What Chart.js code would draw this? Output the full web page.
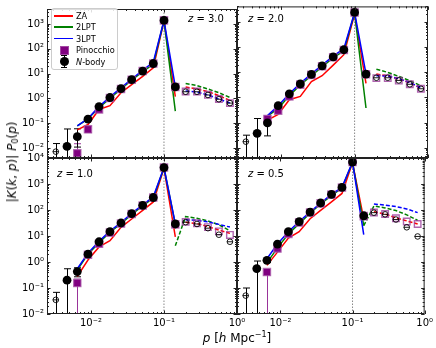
<!DOCTYPE html>
<html>
<head>
<meta charset="utf-8">
<script src="https://cdn.jsdelivr.net/npm/chart.js@4.4.1/dist/chart.umd.min.js"></script>
<style>
body { margin: 0; background: #fff; width: 436px; height: 348px; position: relative; overflow: hidden; font-family: 'DejaVu Sans', sans-serif; }
canvas { position: absolute; left: 0; top: 0; }
.lbl { position: absolute; white-space: nowrap; color: #000; line-height: 1; }
.legend { position: absolute; left: 51px; top: 8px; width: 65px; height: 60px; border: 1px solid #ccc; border-radius: 3px; background: rgba(255,255,255,0.85); }
.legend .row { position: absolute; left: 0; width: 65px; height: 10px; }
.legend .txt { position: absolute; left: 24px; top: 0; font-size: 8.2px; line-height: 10px; }
.legend .ln { position: absolute; left: 2px; top: 4px; width: 19px; height: 1.6px; }
</style>
</head>
<body>
<canvas id="c1" width="436" height="348"></canvas>
<canvas id="c2" width="436" height="348"></canvas>
<canvas id="c3" width="436" height="348"></canvas>
<canvas id="c4" width="436" height="348"></canvas>

<div class="legend">
  <div class="row" style="top:2px"><div class="ln" style="background:#ff0000"></div><div class="txt">ZA</div></div>
  <div class="row" style="top:13px"><div class="ln" style="background:#008000"></div><div class="txt">2LPT</div></div>
  <div class="row" style="top:24.5px"><div class="ln" style="background:#0000ff"></div><div class="txt">3LPT</div></div>
  <div class="row" style="top:36px">
    <div style="position:absolute;left:8px;top:0.5px;width:7px;height:7px;background:#800080;border:1px solid rgba(170,90,170,0.8)"></div>
    <div class="txt">Pinocchio</div></div>
  <div class="row" style="top:48px">
    <div style="position:absolute;left:11.5px;top:-2px;width:1px;height:13px;background:#000"></div>
    <div style="position:absolute;left:9px;top:-2px;width:6px;height:1px;background:#000"></div>
    <div style="position:absolute;left:9px;top:10px;width:6px;height:1px;background:#000"></div>
    <div style="position:absolute;left:7.5px;top:0px;width:9px;height:9px;border-radius:50%;background:#000"></div>
    <div class="txt"><i>N</i>-body</div></div>
</div>

<div class="lbl" style="left:188px;top:14px;font-size:10px"><i>z</i> = 3.0</div>
<div class="lbl" style="left:248px;top:14px;font-size:10px"><i>z</i> = 2.0</div>
<div class="lbl" style="left:57px;top:169px;font-size:10px"><i>z</i> = 1.0</div>
<div class="lbl" style="left:248px;top:169px;font-size:10px"><i>z</i> = 0.5</div>

<div class="lbl" style="left:13px;top:162px;font-size:12px;transform:translate(-50%,-50%) rotate(-90deg)">|<i>K</i>(<i>k</i>, <i>p</i>)| <i>P</i><sub style="font-size:8px;vertical-align:-2px">0</sub>(<i>p</i>)</div>
<div class="lbl" style="left:237px;top:337px;font-size:12px;transform:translate(-50%,-50%)"><i>p</i> [<i>h</i> Mpc<sup style="font-size:8px;vertical-align:5px">−1</sup>]</div>

<script>
// k bins (h/Mpc) shared by all panels
const kBins = [0.0033, 0.0047, 0.0065, 0.0091, 0.0129, 0.0182, 0.0258, 0.0361, 0.0511, 0.0714, 0.1, 0.143, 0.198, 0.283, 0.4, 0.565, 0.8];
const isOpen = [1, 0, 0, 0, 0, 0, 0, 0, 0, 0, 0, 0, 1, 1, 1, 1, 1];
const kDiv = 0.1;
const xTicks = [0.01, 0.1, 1];
const yTicksTop = [0.01, 0.1, 1, 10, 100, 1000];
const yTicksBottom = [0.01, 0.1, 1, 10, 100, 1000, 10000];

// z = 3.0
const nbody3 = [0.0072, 0.0117, 0.029, 0.146, 0.47, 1.09, 2.5, 5.7, 12.7, 25.5, 1390, 2.9, 1.86, 1.86, 1.38, 0.93, 0.65];
const nbHi3 = [0.0153, 0.059, 0.06];
const nbLo3 = [0.0001, 0.0001, 0.011];
const pin3 = [null, null, 0.0062, 0.057, 0.36, 1.05, 2.4, 5.7, 12.7, 25.5, 1390, 2.9, 1.9, 1.9, 1.4, 0.95, 0.65];
const pinHi3 = [null, null, 0.015, 0.075];
const pinLo3 = [null, null, 0.003, 0.042];
const za3 = [null, null, 0.054, 0.089, 0.36, 0.51, 1.7, 3.6, 7.7, 17, 1300, 1.19];
const za3d = [null, null, null, null, null, null, null, null, null, null, null, null, 2.9, 2.4, 1.9, 1.3, 0.83];
const lpt2z3 = [null, null, 0.079, 0.15, 0.43, 1.0, 2.4, 5.4, 12, 24, 1350, 0.31];
const lpt2z3d = [null, null, null, null, null, null, null, null, null, null, null, null, 4.0, 3.3, 2.4, 1.7, 1.1];
const lpt3z3 = [null, null, 0.079, 0.155, 0.47, 1.16, 2.7, 6.0, 13.7, 29, 1390, 2.9];
const lpt3z3d = [null, null, null, null, null, null, null, null, null, null, null, null, 2.0, 1.8, 1.4, 0.95, 0.65];

// z = 2.0
const nbody2 = [0.0177, 0.038, 0.098, 0.47, 1.39, 3.4, 8.1, 17.8, 40, 77, 2300, 8.4, 6.0, 6.0, 4.7, 3.3, 2.2];
const nbHi2 = [0.032, 0.146, 0.16];
const nbLo2 = [0.0001, 0.0001, 0.03];
const pin2 = [null, null, 0.14, 0.30, 1.1, 3.2, 7.8, 17, 39, 75, 2300, 8.2, 5.8, 5.8, 4.6, 3.3, 2.2];
const pinHi2 = [null, null, 0.19];
const pinLo2 = [null, null, 0.1];
const za2 = [null, null, 0.126, 0.21, 0.81, 1.09, 4.2, 7.2, 19, 49, 2000, 3.6];
const za2d = [null, null, null, null, null, null, null, null, null, null, null, null, 8.4, 7.0, 5.4, 3.8, 2.3];
const lpt2z2 = [null, null, 0.18, 0.37, 1.16, 3.1, 7.2, 16, 37, 70, 2200, 0.38];
const lpt2z2d = [null, null, null, null, null, null, null, null, null, null, null, null, 13, 9.8, 6.8, 4.6, 2.9];
const lpt3z2 = [null, null, 0.19, 0.47, 1.39, 3.6, 8.5, 19, 43, 85, 2300, 8.6];
const lpt3z2d = [null, null, null, null, null, null, null, null, null, null, null, null, 7.2, 7.0, 5.5, 3.9, 2.4];

// z = 1.0
const nbody1 = [0.035, 0.2, 0.43, 2.0, 6.0, 14.7, 31.6, 72, 151, 302, 4300, 29, 34, 29, 20, 11.2, 6.0];
const nbHi1 = [0.068, 0.55, 0.6];
const nbLo1 = [0.0001, 0.0001, 0.27];
const pin1 = [null, null, 0.155, 1.9, 5.0, 13.5, 30, 70, 148, 300, 4300, 28, 35, 31, 22, 15, 11];
const pinHi1 = [null, null, 0.22];
const pinLo1 = [null, null, 0.0001];
const za1 = [null, null, 0.28, 1.19, 3.8, 6.6, 21.6, 45, 97, 204, 4000, 9.3];
const za1d = [null, null, null, null, null, null, null, null, null, null, null, null, 34, 30, 23, 17, 12.6];
const lpt2z1 = [null, null, 0.49, 2.0, 5.5, 14, 30, 68, 145, 290, 4200, 28];
const lpt2z1d = [null, null, null, null, null, null, null, null, null, null, null, 4.2, 56, 48, 38, 27, 16];
const lpt3z1 = [null, null, 0.55, 2.2, 6.2, 15.5, 33, 75, 158, 320, 4300, 29];
const lpt3z1d = [null, null, null, null, null, null, null, null, null, null, null, null, 42, 40, 35, 28, 22];

// z = 0.5
const nbody05 = [0.051, 0.56, 1.16, 4.9, 14.7, 36, 83, 186, 400, 740, 7000, 60, 79, 68, 43, 21.6, 9.6];
const nbHi05 = [0.1, 1.09, 1.4];
const nbLo05 = [0.0001, 0.0001, 0.95];
const pin05 = [null, null, 0.41, 3.3, 12, 33, 80, 180, 390, 730, 7000, 58, 80, 70, 48, 36, 29];
const pinHi05 = [null, null, 0.5];
const pinLo05 = [null, null, 0.0001];
const za05 = [null, null, 0.74, 2.4, 8.3, 14.7, 46, 97, 205, 433, 6500, 45];
const za05d = [null, null, null, null, null, null, null, null, null, null, null, null, 85, 70, 50, 38, 29];
const lpt2z05 = [null, null, 0.93, 3.5, 12, 30, 75, 170, 360, 700, 6800, 25];
const lpt2z05d = [null, null, null, null, null, null, null, null, null, null, null, 25, 142, 120, 95, 65, 40];
const lpt3z05 = [null, null, 1.34, 4.9, 14.7, 36, 83, 186, 400, 740, 7000, 11.2];
const lpt3z05d = [null, null, null, null, null, null, null, null, null, null, null, null, 170, 155, 135, 110, 79];

const sup = { '-': '⁻', '0': '⁰', '1': '¹', '2': '²', '3': '³', '4': '⁴' };
function powLabel(v) {
    const e = Math.round(Math.log10(v));
    return '10' + String(e).split('').map(c => sup[c]).join('');
}

function pts(arr, keep) {
    const out = [];
    arr.forEach((v, i) => {
        if (v != null && (!keep || keep(i))) out.push({ x: kBins[i], y: v });
    });
    return out;
}

// error bars, inward ticks and frame
const panelDecor = {
    id: 'panelDecor',
    beforeDatasetsDraw(chart, args, opts) {
        const { ctx, chartArea: a } = chart;
        const xs = chart.scales.x, ys = chart.scales.y;
        ctx.save();
        ctx.beginPath();
        ctx.rect(a.left, a.top, a.right - a.left, a.bottom - a.top);
        ctx.clip();
        ctx.lineWidth = 1;
        opts.errors.forEach(e => {
            ctx.strokeStyle = e.color;
            e.hi.forEach((hi, i) => {
                if (hi == null) return;
                const px = Math.round(xs.getPixelForValue(kBins[i])) + 0.5;
                const pHi = ys.getPixelForValue(hi);
                const pLo = ys.getPixelForValue(e.lo[i]);
                ctx.beginPath();
                ctx.moveTo(px, pHi); ctx.lineTo(px, pLo);
                ctx.moveTo(px - 3.5, pHi); ctx.lineTo(px + 3.5, pHi);
                ctx.moveTo(px - 3.5, pLo); ctx.lineTo(px + 3.5, pLo);
                ctx.stroke();
            });
        });
        ctx.restore();
    },
    afterDraw(chart) {
        const { ctx, chartArea: a } = chart;
        const xs = chart.scales.x, ys = chart.scales.y;
        ctx.save();
        ctx.strokeStyle = '#222';
        ctx.lineWidth = 1;
        ctx.beginPath();
        for (let e = -3; e <= 4; e++) {
            for (let m = 1; m <= 9; m++) {
                const v = m * Math.pow(10, e);
                const len = m === 1 ? 3.5 : 2;
                if (v >= xs.min && v <= xs.max) {
                    const px = Math.round(xs.getPixelForValue(v)) + 0.5;
                    ctx.moveTo(px, a.bottom); ctx.lineTo(px, a.bottom - len);
                    ctx.moveTo(px, a.top); ctx.lineTo(px, a.top + len);
                }
                if (v >= ys.min && v <= ys.max) {
                    const py = Math.round(ys.getPixelForValue(v)) + 0.5;
                    ctx.moveTo(a.left, py); ctx.lineTo(a.left + len, py);
                    ctx.moveTo(a.right, py); ctx.lineTo(a.right - len, py);
                }
            }
        }
        ctx.stroke();
        ctx.strokeRect(a.left + 0.5, a.top + 0.5, a.right - a.left - 1, a.bottom - a.top - 1);
        ctx.restore();
    }
};

const tickFont = { family: 'DejaVu Sans', size: 10 };

function makePanel(id, box, yMin, yMax, yTicks, showX, showY, d) {
    const lineDs = (data, color, dash) => ({
        data: pts(data), showLine: true, borderColor: color, borderWidth: 1.5,
        borderDash: dash ? [4, 2] : [], pointRadius: 0, fill: false
    });
    const datasets = [
        { data: pts(d.nbody, i => !isOpen[i]), pointStyle: 'circle', pointRadius: 4.4,
          backgroundColor: '#000', borderColor: '#000', borderWidth: 0 },
        { data: pts(d.nbody, i => isOpen[i]), pointStyle: 'circle', pointRadius: 2.8,
          backgroundColor: 'rgba(0,0,0,0)', borderColor: '#000', borderWidth: 0.9 },
        { data: pts(d.nbody, i => isOpen[i]), pointStyle: 'line', pointRadius: 3,
          borderColor: '#000', borderWidth: 0.9 },
        { data: pts(d.pin, i => !isOpen[i]), pointStyle: 'rect', pointRadius: 5.2,
          backgroundColor: '#800080', borderColor: 'rgba(170,90,170,0.8)', borderWidth: 1.2 },
        { data: pts(d.pin, i => isOpen[i]), pointStyle: 'rect', pointRadius: 4.6,
          backgroundColor: 'rgba(0,0,0,0)', borderColor: 'rgba(150,50,150,0.75)', borderWidth: 1.4 },
        lineDs(d.lpt3, '#0000ff', false),
        lineDs(d.lpt3d, '#0000ff', true),
        lineDs(d.lpt2, '#008000', false),
        lineDs(d.lpt2d, '#008000', true),
        lineDs(d.za, '#ff0000', false),
        lineDs(d.zad, '#ff0000', true),
        { data: [{ x: kDiv, y: yMin }, { x: kDiv, y: yMax }], showLine: true, borderColor: '#888',
          borderWidth: 1, borderDash: [1.5, 1.5], pointRadius: 0 }
    ];
    // axis boxes take the label room; padding places the rest of the frame
    const yW = showY ? box[0] : 0;
    const xH = showX ? 348 - box[3] : 0;
    new Chart(document.getElementById(id), {
        type: 'scatter',
        data: { datasets },
        options: {
            responsive: false,
            animation: false,
            devicePixelRatio: 1,
            events: [],
            layout: { padding: { left: box[0] - yW, top: box[1], right: 436 - box[2], bottom: 348 - box[3] - xH } },
            plugins: {
                legend: { display: false },
                tooltip: { enabled: false },
                panelDecor: {
                    errors: [
                        { hi: d.pinHi, lo: d.pinLo, color: 'rgba(128,0,128,0.8)' },
                        { hi: d.nbHi, lo: d.nbLo, color: '#000' }
                    ]
                }
            },
            scales: {
                x: {
                    type: 'logarithmic', min: 0.0025, max: 1,
                    grid: { display: false, drawTicks: false }, border: { display: false },
                    ticks: { display: showX, autoSkip: false, minRotation: 0, maxRotation: 0, padding: 3,
                             font: tickFont, color: '#000', callback: v => powLabel(v) },
                    afterBuildTicks: s => { s.ticks = xTicks.map(v => ({ value: v })); },
                    afterFit: s => { s.height = xH; }
                },
                y: {
                    type: 'logarithmic', min: yMin, max: yMax,
                    grid: { display: false, drawTicks: false }, border: { display: false },
                    ticks: { display: showY, autoSkip: false, padding: 3,
                             font: tickFont, color: '#000', callback: v => powLabel(v) },
                    afterBuildTicks: s => { s.ticks = yTicks.map(v => ({ value: v })); },
                    afterFit: s => { s.width = yW; }
                }
            }
        },
        plugins: [panelDecor]
    });
}

makePanel('c1', [47, 4, 237, 158], 0.004, 4000, yTicksTop, false, true, {
    nbody: nbody3, nbHi: nbHi3, nbLo: nbLo3, pin: pin3, pinHi: pinHi3, pinLo: pinLo3,
    za: za3, zad: za3d, lpt2: lpt2z3, lpt2d: lpt2z3d, lpt3: lpt3z3, lpt3d: lpt3z3d
});
makePanel('c2', [237, 4, 428, 158], 0.004, 4000, yTicksTop, false, false, {
    nbody: nbody2, nbHi: nbHi2, nbLo: nbLo2, pin: pin2, pinHi: pinHi2, pinLo: pinLo2,
    za: za2, zad: za2d, lpt2: lpt2z2, lpt2d: lpt2z2d, lpt3: lpt3z2, lpt3d: lpt3z2d
});
makePanel('c3', [47, 158, 237, 314], 0.01, 10000, yTicksBottom, true, true, {
    nbody: nbody1, nbHi: nbHi1, nbLo: nbLo1, pin: pin1, pinHi: pinHi1, pinLo: pinLo1,
    za: za1, zad: za1d, lpt2: lpt2z1, lpt2d: lpt2z1d, lpt3: lpt3z1, lpt3d: lpt3z1d
});
makePanel('c4', [237, 158, 428, 314], 0.01, 10000, yTicksBottom, true, false, {
    nbody: nbody05, nbHi: nbHi05, nbLo: nbLo05, pin: pin05, pinHi: pinHi05, pinLo: pinLo05,
    za: za05, zad: za05d, lpt2: lpt2z05, lpt2d: lpt2z05d, lpt3: lpt3z05, lpt3d: lpt3z05d
});
</script>
</body>
</html>
